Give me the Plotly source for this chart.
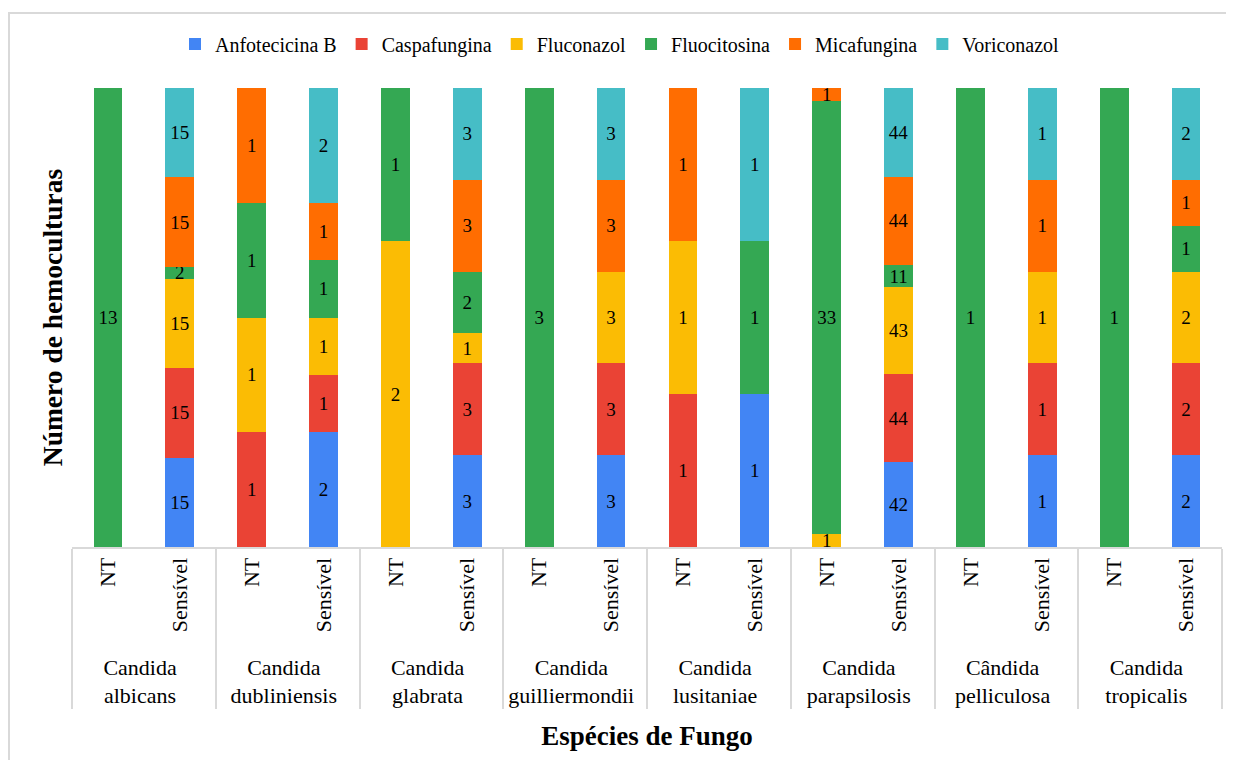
import plotly.graph_objects as go

species = ["Candida<br>albicans", "Candida<br>dubliniensis", "Candida<br>glabrata",
           "Candida<br>guilliermondii", "Candida<br>lusitaniae", "Candida<br>parapsilosis",
           "Cândida<br>pelliculosa", "Candida<br>tropicalis"]
status = ["NT", "Sensível"]

anfotericina = [0, 15, 0, 2, 0, 3, 0, 3, 0, 1, 0, 42, 0, 1, 0, 2]
caspafungina = [0, 15, 1, 1, 0, 3, 0, 3, 1, 0, 0, 44, 0, 1, 0, 2]
fluconazol   = [0, 15, 1, 1, 2, 1, 0, 3, 1, 0, 1, 43, 0, 1, 0, 2]
fluocitosina = [13, 2, 1, 1, 1, 2, 3, 0, 0, 1, 33, 11, 1, 0, 1, 1]
micafungina  = [0, 15, 1, 1, 0, 3, 0, 3, 1, 0, 1, 44, 0, 1, 0, 1]
voriconazol  = [0, 15, 0, 2, 0, 3, 0, 3, 0, 1, 0, 44, 0, 1, 0, 2]

series = [
    ("Anfotecicina B", anfotericina, "#4285F4"),
    ("Caspafungina", caspafungina, "#EA4335"),
    ("Fluconazol", fluconazol, "#FBBC04"),
    ("Fluocitosina", fluocitosina, "#34A853"),
    ("Micafungina", micafungina, "#FF6D01"),
    ("Voriconazol", voriconazol, "#46BDC6"),
]

outer = [s for s in species for _ in status]
inner = [t for _ in species for t in status]

FONT = "Liberation Serif"

fig = go.Figure()
for name, vals, color in series:
    fig.add_trace(go.Bar(
        name=name,
        x=[outer, inner],
        y=[v if v else None for v in vals],
        text=[str(v) if v else "" for v in vals],
        texttemplate="%{text}",
        textposition="inside",
        insidetextanchor="middle",
        textangle=0,
        textfont=dict(family=FONT, size=19, color="black"),
        marker=dict(color=color, line=dict(width=0)),
    ))

# page body has an 8px margin: figure is drawn 8px shifted
OFF = 8
FW, FH = 1234 - OFF, 760 - OFF
W0, W1 = 72 - OFF, 1222 - OFF
T0, B0 = 88 - OFF, 547 - OFF
pw = W1 - W0
ph = B0 - T0

fig.update_layout(
    width=FW, height=FH,
    barmode="stack", barnorm="percent", bargap=0.6,
    paper_bgcolor="white", plot_bgcolor="white",
    margin=dict(l=W0, r=FW - W1, t=T0, b=FH - B0, autoexpand=False),
    font=dict(family=FONT, size=22, color="black"),
    uniformtext=dict(mode="show", minsize=19),
    legend=dict(orientation="h", x=0.5 - 27 / pw, xanchor="center",
                y=(B0 - (44 - OFF)) / ph, yanchor="middle",
                font=dict(family=FONT, size=20, color="black"), traceorder="normal"),
    xaxis=dict(type="multicategory", tickangle=-90,
               tickfont=dict(family=FONT, size=22, color="black"),
               showline=True, linecolor="#d9d9d9", linewidth=2,
               ticks="", showdividers=True, dividercolor="#d9d9d9", dividerwidth=2,
               title=dict(text="<b>Espécies de Fungo</b>",
                          font=dict(family=FONT, size=27, color="black"), standoff=19)),
    yaxis=dict(range=[0, 100], showticklabels=False, showgrid=False, zeroline=False,
               ticks="", showline=False,
               title=dict(text="<b>Número de hemoculturas</b>",
                          font=dict(family=FONT, size=27.5, color="black"), standoff=0)),
    shapes=[dict(type="rect", xref="paper", yref="paper",
                 x0=(9 - OFF - W0) / pw, x1=(1400 - W0) / pw,
                 y0=(B0 - 900) / ph, y1=(B0 - (13 - OFF)) / ph,
                 line=dict(color="#d9d9d9", width=2), fillcolor="rgba(0,0,0,0)", layer="below")],
)

fig.write_html("out.html")
